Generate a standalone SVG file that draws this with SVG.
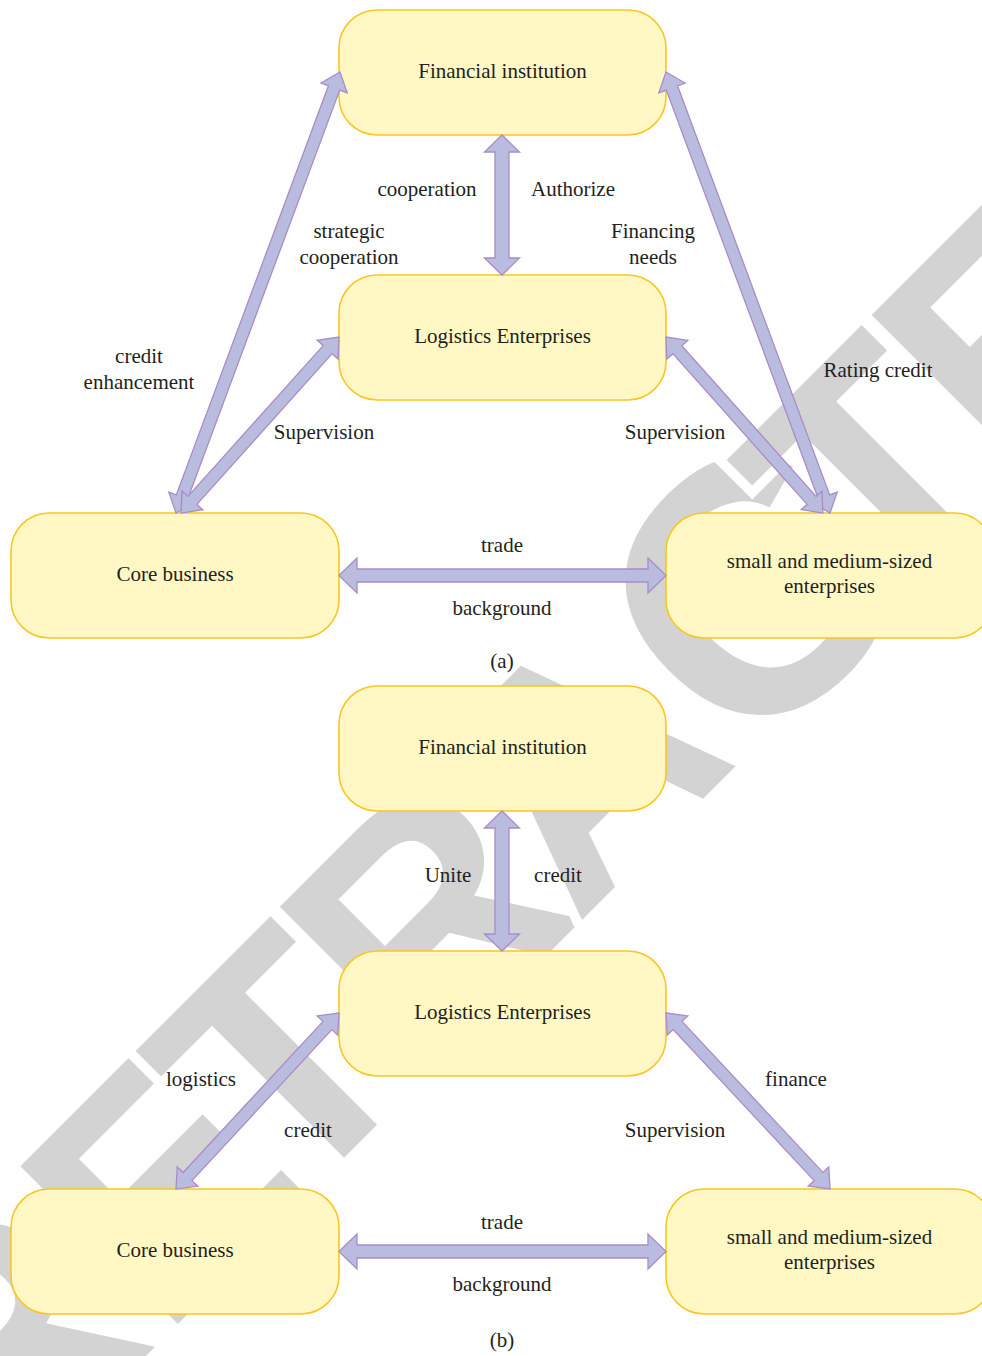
<svg xmlns="http://www.w3.org/2000/svg" width="982" height="1356" viewBox="0 0 982 1356">
<style>
.wm{font-family:"Liberation Sans",Arial,sans-serif;font-weight:bold;font-size:324px;fill:#d3d3d3;stroke:#ffffff;stroke-width:20;paint-order:stroke;stroke-linejoin:miter}
.box{fill:#fff8c4;stroke:#f9c623;stroke-width:1.6}
.arr{fill:#b9bcde;stroke:#a98cc8;stroke-width:1.3;stroke-linejoin:miter}
.t{font-family:"Liberation Serif","Times New Roman",serif;font-size:21px;fill:#231f20;text-anchor:middle}
</style>
<rect width="982" height="1356" fill="#ffffff"/>
<g id="watermark" transform="rotate(-45)">
<text class="wm" x="-1070" y="1062">R</text>
<text class="wm" x="-832" y="1062">E</text>
<text class="wm" x="-651" y="1062">T</text>
<text class="wm" x="-465" y="1062">R</text>
<text class="wm" x="-247" y="1062">A</text>
<text class="wm" x="-16" y="1073" style="font-size:360px">C</text>
<text class="wm" x="185" y="1062">T</text>
<text class="wm" x="372" y="1062">E</text>
<text class="wm" x="572" y="1062">D</text>
</g>
<g id="a-financial"><rect class="box" x="339" y="10" width="327" height="125" rx="38"/><text class="t" x="502.5" y="78">Financial institution</text></g>
<g id="a-logistics"><rect class="box" x="339" y="275" width="327" height="125" rx="38"/><text class="t" x="502.5" y="343">Logistics Enterprises</text></g>
<g id="a-core"><rect class="box" x="11" y="513" width="328" height="125" rx="38"/><text class="t" x="175" y="581">Core business</text></g>
<g id="a-sme"><rect class="box" x="666" y="513" width="327" height="125" rx="38"/><text class="t" x="829.5" y="568">small and medium-sized</text><text class="t" x="829.5" y="593">enterprises</text></g>
<g id="b-financial"><rect class="box" x="339" y="686" width="327" height="125" rx="38"/><text class="t" x="502.5" y="754">Financial institution</text></g>
<g id="b-logistics"><rect class="box" x="339" y="951" width="327" height="125" rx="38"/><text class="t" x="502.5" y="1019">Logistics Enterprises</text></g>
<g id="b-core"><rect class="box" x="11" y="1189" width="328" height="125" rx="38"/><text class="t" x="175" y="1257">Core business</text></g>
<g id="b-sme"><rect class="box" x="666" y="1189" width="327" height="125" rx="38"/><text class="t" x="829.5" y="1244">small and medium-sized</text><text class="t" x="829.5" y="1269">enterprises</text></g>
<g id="connectors">
<path class="arr" transform="translate(502,135) rotate(90)" d="M0,0 L17,-17.5 L17,-7 L123,-7 L123,-17.5 L140,0 L123,17.5 L123,7 L17,7 L17,17.5 Z"/>
<path class="arr" transform="translate(340,72) rotate(110.4)" d="M0,0 L17,-14 L17,-6 L453.5,-6 L453.5,-14 L470.5,0 L453.5,14 L453.5,6 L17,6 L17,14 Z"/>
<path class="arr" transform="translate(339,337) rotate(131.9)" d="M0,0 L17,-14 L17,-6 L219.5,-6 L219.5,-14 L236.5,0 L219.5,14 L219.5,6 L17,6 L17,14 Z"/>
<path class="arr" transform="translate(666,72) rotate(69.6)" d="M0,0 L17,-14 L17,-6 L453.5,-6 L453.5,-14 L470.5,0 L453.5,14 L453.5,6 L17,6 L17,14 Z"/>
<path class="arr" transform="translate(666,337) rotate(48.3)" d="M0,0 L17,-14 L17,-6 L218.8,-6 L218.8,-14 L235.8,0 L218.8,14 L218.8,6 L17,6 L17,14 Z"/>
<path class="arr" transform="translate(339,575.5)" d="M0,0 L18,-17.5 L18,-6.5 L309,-6.5 L309,-17.5 L327,0 L309,17.5 L309,6.5 L18,6.5 L18,17.5 Z"/>
<path class="arr" transform="translate(502,811) rotate(90)" d="M0,0 L17,-17.5 L17,-7 L123,-7 L123,-17.5 L140,0 L123,17.5 L123,7 L17,7 L17,17.5 Z"/>
<path class="arr" transform="translate(339,1013) rotate(132.8)" d="M0,0 L17,-14 L17,-6 L222.9,-6 L222.9,-14 L239.9,0 L222.9,14 L222.9,6 L17,6 L17,14 Z"/>
<path class="arr" transform="translate(666,1013) rotate(47)" d="M0,0 L17,-14 L17,-6 L223.6,-6 L223.6,-14 L240.6,0 L223.6,14 L223.6,6 L17,6 L17,14 Z"/>
<path class="arr" transform="translate(339,1251.5)" d="M0,0 L18,-17.5 L18,-6.5 L309,-6.5 L309,-17.5 L327,0 L309,17.5 L309,6.5 L18,6.5 L18,17.5 Z"/>
<text class="t" x="427" y="196">cooperation</text>
<text class="t" x="573" y="196">Authorize</text>
<text class="t" x="349" y="238">strategic</text>
<text class="t" x="349" y="264">cooperation</text>
<text class="t" x="653" y="238">Financing</text>
<text class="t" x="653" y="264">needs</text>
<text class="t" x="139" y="363">credit</text>
<text class="t" x="139" y="389">enhancement</text>
<text class="t" x="878" y="377">Rating credit</text>
<text class="t" x="324" y="439">Supervision</text>
<text class="t" x="675" y="439">Supervision</text>
<text class="t" x="502" y="552">trade</text>
<text class="t" x="502" y="615">background</text>
<text class="t" x="502" y="668">(a)</text>
<text class="t" x="448" y="882">Unite</text>
<text class="t" x="558" y="882">credit</text>
<text class="t" x="201" y="1086">logistics</text>
<text class="t" x="796" y="1086">finance</text>
<text class="t" x="308" y="1137">credit</text>
<text class="t" x="675" y="1137">Supervision</text>
<text class="t" x="502" y="1229">trade</text>
<text class="t" x="502" y="1291">background</text>
<text class="t" x="502" y="1347">(b)</text>
</g>
</svg>
